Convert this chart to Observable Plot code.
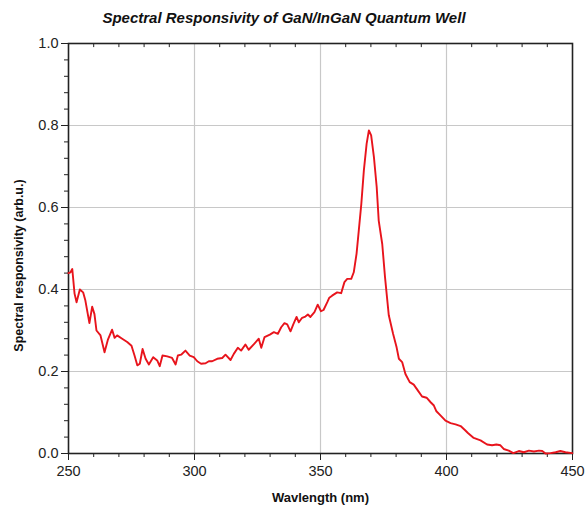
<!DOCTYPE html>
<html><head><meta charset="utf-8">
<script src="https://cdn.jsdelivr.net/npm/d3@7"></script>
<script src="https://cdn.jsdelivr.net/npm/@observablehq/plot@0.6"></script>
<style>
body{margin:0;background:#fff;font-family:"Liberation Sans",Arial,sans-serif;}
#title{height:32px;line-height:36px;font-size:15px;font-weight:bold;font-style:italic;text-align:center;padding-right:18px;color:#111;}
#chart svg{display:block;}
</style></head><body>
<div id="title">Spectral Responsivity of GaN/InGaN Quantum Well</div>
<div id="chart"></div>
<script>
const wavelength = [250,250.8,251.5,252.4,253.2,254.5,255.8,256.7,258.3,259.4,260.3,261.1,262.7,264.3,265.6,267.3,268.3,269.3,271.3,273.3,275,276.2,277.3,278.3,279.4,280.6,281.9,283.6,285.2,286.2,287.3,289.2,291.1,292.5,293.4,294.7,296.4,298.1,299.7,301.1,302.6,304.4,305.7,307.0,309.0,311.0,312.3,314.3,315.6,317.2,318.5,320.2,321.5,323.5,325.5,326.5,327.8,329.9,331.5,333.1,334.4,335.7,336.8,338.1,339.2,340.5,341.4,342.7,344.0,345.0,346.0,347.6,348.9,350.2,351.2,352.7,353.5,354.6,356.6,358.2,359.5,360.6,362.2,363.2,364.3,365.2,366.2,367.2,368.3,369.2,370.1,371.2,372.3,373.1,374.5,375.6,376.4,377.1,378.8,380.2,381.1,382.4,383.7,385.4,387.0,388.6,390.3,392.1,393.7,395.0,396.0,397.6,399.6,401.6,403.6,405.6,407.5,408.5,410.8,413.5,416.1,418.1,419.8,421.4,422.7,424.7,426.5,428.7,430.7,432.7,434.7,436.7,438.0,439.3,441.3,443.3,445.2,447.2,449.9];
const responsivity = [0.44,0.442,0.45,0.39,0.369,0.40,0.393,0.373,0.318,0.358,0.34,0.30,0.288,0.247,0.277,0.302,0.282,0.288,0.28,0.272,0.263,0.239,0.215,0.219,0.255,0.231,0.217,0.235,0.227,0.213,0.239,0.237,0.233,0.217,0.239,0.241,0.251,0.239,0.235,0.225,0.219,0.220,0.225,0.225,0.231,0.233,0.241,0.228,0.243,0.258,0.251,0.266,0.253,0.266,0.28,0.258,0.284,0.29,0.296,0.292,0.308,0.318,0.315,0.298,0.315,0.333,0.320,0.331,0.334,0.339,0.333,0.345,0.363,0.347,0.35,0.369,0.38,0.385,0.393,0.391,0.418,0.426,0.426,0.442,0.487,0.544,0.609,0.69,0.755,0.788,0.776,0.723,0.65,0.568,0.511,0.43,0.38,0.337,0.292,0.259,0.231,0.223,0.194,0.174,0.168,0.154,0.139,0.136,0.125,0.117,0.103,0.093,0.080,0.074,0.071,0.067,0.056,0.050,0.038,0.032,0.022,0.020,0.022,0.020,0.011,0.007,0.001,0.006,0.003,0.007,0.005,0.007,0.006,0.0,0.001,0.003,0.006,0.003,0.001];
const xTicks = [250,300,350,400,450];
const yTicks = [0,0.2,0.4,0.6,0.8,1.0];
const xMinor = [260,270,280,290,310,320,330,340,360,370,380,390,410,420,430,440];
const yMinor = [0.04,0.08,0.12,0.16,0.24,0.28,0.32,0.36,0.44,0.48,0.52,0.56,0.64,0.68,0.72,0.76,0.84,0.88,0.92,0.96];
const title = "Spectral Responsivity of GaN/InGaN Quantum Well";
const xLabel = "Wavlength (nm)";
const yLabel = "Spectral responsivity (arb.u.)";

const data = wavelength.map((w, i) => ({w, r: responsivity[i]}));

const chart = Plot.plot({
  width: 586,
  height: 474,
  marginTop: 11,
  marginBottom: 53,
  marginLeft: 68,
  marginRight: 14,
  style: {fontFamily: "'Liberation Sans', Arial, sans-serif", color: "#222", background: "#fff"},
  x: {domain: [250, 450]},
  y: {domain: [0, 1]},
  marks: [
    Plot.gridX(xTicks.slice(1, -1), {stroke: "#c8c8c8", strokeOpacity: 1, strokeWidth: 1.2}),
    Plot.gridY(yTicks.slice(1, -1), {stroke: "#c8c8c8", strokeOpacity: 1, strokeWidth: 1.2}),
    Plot.axisX({ticks: xMinor, tickSize: 4, tickFormat: () => "", label: null, stroke: "#222"}),
    Plot.axisY({ticks: yMinor, tickSize: 4, tickFormat: () => "", label: null, stroke: "#222"}),
    Plot.ruleX(xMinor, {y1: 1, y2: 0.99, stroke: "#222"}),
    Plot.axisX({ticks: xTicks, tickSize: 7, tickPadding: 5, tickFormat: d => String(d), label: null, fontSize: 14.5, stroke: "#222"}),
    Plot.axisY({ticks: yTicks, tickSize: 7, tickPadding: 3, tickFormat: d3.format(".1f"), label: null, fontSize: 14.5, stroke: "#222"}),
    Plot.frame({stroke: "#222", strokeWidth: 1.6}),
    Plot.line(data, {x: "w", y: "r", stroke: "#e8141c", strokeWidth: 1.9}),
    Plot.text([xLabel], {frameAnchor: "bottom", dy: 48, fontWeight: "bold", fontSize: 13, fill: "#111"}),
    Plot.text([yLabel], {frameAnchor: "left", textAnchor: "middle", rotate: -90, dx: -50, dy: 17, fontWeight: "bold", fontSize: 12.5, fill: "#111"})
  ]
});
document.getElementById("chart").appendChild(chart);
</script>
</body></html>
